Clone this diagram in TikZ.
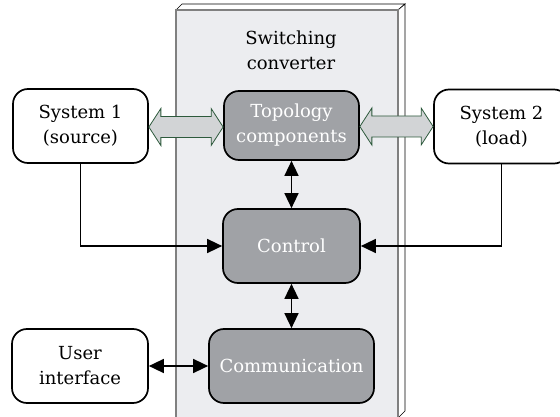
\documentclass[tikz,border=0pt]{standalone}
\usepackage{fontspec}
\setmainfont{DejaVu Serif}
\usepackage{tikz}
\usetikzlibrary{arrows.meta, calc}
\definecolor{panelgray}{RGB}{236,237,240}
\definecolor{blockgray}{RGB}{160,162,166}
\definecolor{flowgray}{RGB}{210,212,214}
\definecolor{flowgreen}{RGB}{45,90,60}
% fat two-way arrow between two anchors
\newcommand{\powerflow}[2]{%
    \filldraw[flowstyle] let \p1=(#1), \p2=(#2) in
        (\x1,\y1-1pt) -- (\x1+12pt,\y1+17.5pt) -- (\x1+12pt,\y1+9.5pt)
        -- (\x2-12pt,\y1+9.5pt) -- (\x2-12pt,\y1+17.5pt) -- (\x2,\y1-1pt)
        -- (\x2-12pt,\y1-19.5pt) -- (\x2-12pt,\y1-11.5pt) -- (\x1+12pt,\y1-11.5pt)
        -- (\x1+12pt,\y1-19.5pt) -- cycle;}

\begin{document}
\begin{tikzpicture}[x=1pt, y=-1pt,
    font=\fontsize{18}{25}\selectfont,
    sysbox/.style={draw=black, line width=1.7pt, rounded corners=15pt, fill=white,
        align=center, minimum width=135pt, minimum height=74pt, inner sep=0pt},
    blockbox/.style={sysbox, fill=blockgray, text=white},
    flowstyle/.style={draw=flowgreen, line width=0.8pt, fill=flowgray},
    sig/.style={line width=1.5pt, -{Triangle[length=15pt, width=14pt]}},
    bisig/.style={line width=1.5pt, {Triangle[length=15pt, width=14pt]}-{Triangle[length=15pt, width=14pt]}}]
    \useasboundingbox (0,0) rectangle (560,417);
    % Converter panel
    \begin{scope}
        \clip (0,0) rectangle (560,417);
        \filldraw[fill=white, draw=black, line width=0.6pt] (176,10) -- (182,4) -- (405,4) -- (398,10) -- cycle;
        \filldraw[fill=white, draw=black, line width=0.6pt] (398,10) -- (405,4) -- (405,411) -- (398,418) -- cycle;
        \filldraw[fill=panelgray, draw=gray, line width=1.5pt] (176,10) rectangle (398,430);
    \end{scope}
    \node[align=center] (title) at (291,50) {Switching\\converter};
    % Blocks
    \node[sysbox] (sys1) at (80.5,126) {System 1\\(source)};
    \node[sysbox] (sys2) at (501.5,126.5) {System 2\\(load)};
    \node[blockbox, minimum height=69pt] (topo) at (291.5,125.5) {Topology\\components};
    \node[blockbox, minimum width=137pt] (ctrl) at (291.5,246) {Control};
    \node[blockbox, minimum width=165pt] (comm) at (291.5,366) {Communication};
    \node[sysbox, minimum width=136pt] (user) at (80,366) {User\\interface};
    % Power flow
    \powerflow{sys1.east}{topo.west}
    \powerflow{topo.east}{sys2.west}
    % Signals
    \draw[sig] (sys1.south) |- (ctrl.west);
    \draw[sig] (sys2.south) |- (ctrl.east);
    \draw[bisig] (topo) -- (ctrl);
    \draw[bisig] (ctrl) -- (comm);
    \draw[bisig] (user) -- (comm);
\end{tikzpicture}
\end{document}
